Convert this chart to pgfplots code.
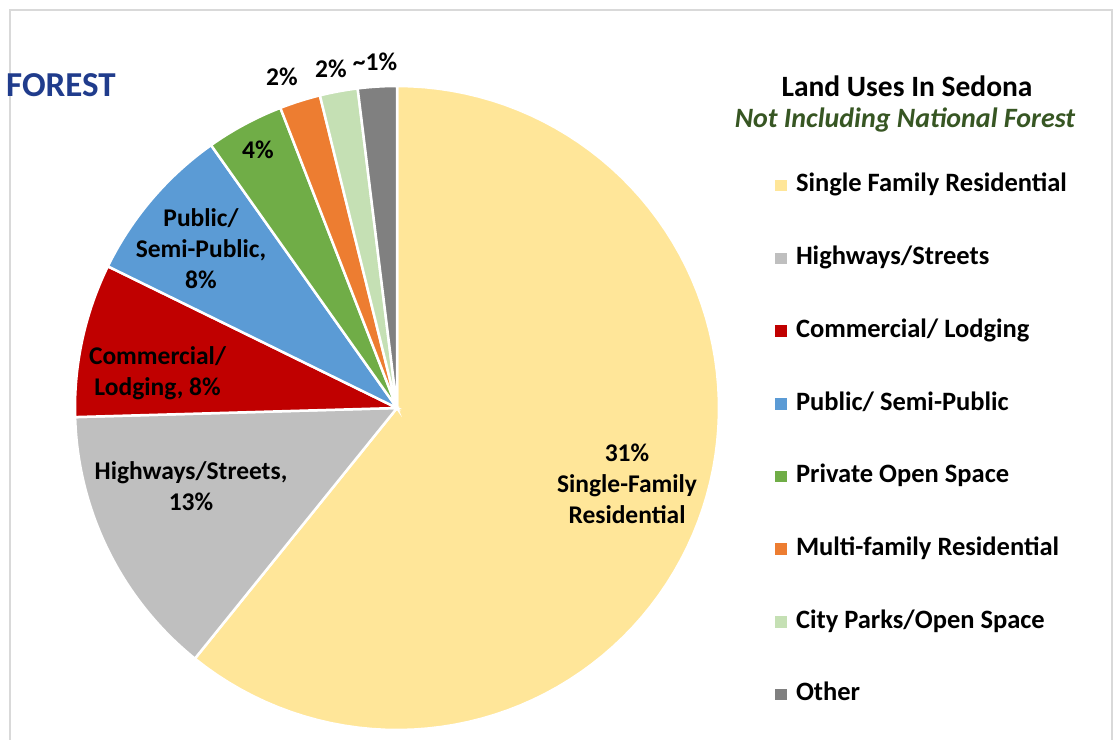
\documentclass[border=0pt]{standalone}
\usepackage{pgfplots}
\pgfplotsset{compat=1.18}
\usepackage{fontspec}
\setmainfont{Carlito}
\definecolor{sfcol}{HTML}{FFE699}
\definecolor{hwcol}{HTML}{BFBFBF}
\definecolor{comcol}{HTML}{C00000}
\definecolor{pubcol}{HTML}{5B9BD5}
\definecolor{privcol}{HTML}{70AD47}
\definecolor{multicol}{HTML}{ED7D31}
\definecolor{parkcol}{HTML}{C5E0B4}
\definecolor{othcol}{HTML}{808080}
\definecolor{forestblue}{HTML}{203C8C}
\definecolor{subgreen}{HTML}{375623}
\definecolor{framegray}{HTML}{D9D9D9}
\tikzset{lbl/.style={font=\fontsize{25.5bp}{31bp}\selectfont\bfseries, align=center, inner sep=0pt}}

% running start angle of the next slice (degrees, clockwise from 12 o'clock)
\gdef\curang{90}
% #1 = share of the pie (percent), #2 = colour, #3 = legend text
\newcommand{\pieslice}[3]{%
  \pgfmathsetmacro{\angA}{\curang}%
  \pgfmathsetmacro{\angB}{\curang-3.6*#1}%
  \edef\temp{\noexpand\addplot[fill=#2, draw=white, line width=2.5bp,
     domain=\angB:\angA, samples=90, variable=\noexpand\t]}%
  \temp ({397+322*cos(\t)},{332+322*sin(\t)}) -- (axis cs:397,332) -- cycle;
  \addlegendentry{#3}%
  \xdef\curang{\angB}%
}

\begin{document}
\begin{tikzpicture}
\useasboundingbox (0,0) rectangle (1119bp,740bp);
\begin{axis}[
  at={(0,0)}, anchor=south west,
  width=1119bp, height=740bp, scale only axis,
  xmin=0, xmax=1119, ymin=0, ymax=740,
  hide axis, clip=false,
  legend image code/.code={\path[fill,draw=none] (0bp,-5.5bp) rectangle (12bp,6bp);},
  legend cell align=left,
  legend style={at={(0.6926,0.7649)}, anchor=north west, draw=none, fill=none,
    inner sep=0pt, outer sep=0pt, row sep=48.7bp, column sep=9bp,
    font=\fontsize{26.5bp}{32bp}\selectfont\bfseries,
    nodes={inner sep=0pt, text height=18bp, text depth=6bp}},
]
\draw[framegray, line width=2bp] (axis cs:10,-5) -- (axis cs:10,730) -- (axis cs:1112,730) -- (axis cs:1112,-5);

\pieslice{60.8}{sfcol}{Single Family Residential}
\pieslice{13.75}{hwcol}{Highways/Streets}
\pieslice{7.7}{comcol}{Commercial/ Lodging}
\pieslice{7.95}{pubcol}{Public/ Semi-Public}
\pieslice{3.9}{privcol}{Private Open Space}
\pieslice{2.05}{multicol}{Multi-family Residential}
\pieslice{1.9}{parkcol}{City Parks/Open Space}
\pieslice{1.95}{othcol}{Other}

\node[lbl] at (axis cs:627,256) {31\%\\Single-Family\\Residential};
\node[lbl] at (axis cs:191,254) {Highways/Streets,\\13\%};
\node[lbl] at (axis cs:157.5,367) {Commercial/\\Lodging, 8\%};
\node[lbl] at (axis cs:201,491) {Public/\\Semi-Public,\\8\%};
\node[lbl, anchor=base] at (axis cs:258,581) {4\%};
\node[lbl, anchor=base] at (axis cs:282,654) {2\%};
\node[lbl, anchor=base] at (axis cs:331,662) {2\%};
\node[lbl, anchor=base] at (axis cs:375,669) {\textasciitilde1\%};

\node[anchor=base west, inner sep=0pt, text=forestblue, font=\fontsize{35bp}{40bp}\selectfont\bfseries] at (axis cs:6,643) {FOREST};
\node[anchor=base, inner sep=0pt, font=\fontsize{29.5bp}{34bp}\selectfont\bfseries] at (axis cs:907,643) {Land Uses In Sedona};
\node[anchor=base, inner sep=0pt, text=subgreen, font=\fontsize{28bp}{32bp}\selectfont\bfseries\itshape] at (axis cs:905,612) {Not Including National Forest};
\end{axis}
\end{tikzpicture}
\end{document}
